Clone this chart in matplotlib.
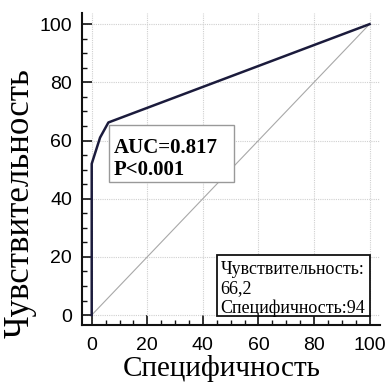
import matplotlib
matplotlib.use("Agg")
import matplotlib.pyplot as plt
from matplotlib.ticker import MultipleLocator
from matplotlib.patches import Rectangle

# Data
fpr = [0, 0, 3, 6, 100]          # 100 - specificity
tpr = [0, 52, 61, 66.2, 100]     # sensitivity
diag = [0, 100]
ticks = [0, 20, 40, 60, 80, 100]
auc_text = "AUC=0.817\nP<0.001"
cut_text = "Чувствительность:\n66,2\nСпецифичность:94"
xlabel = "Специфичность"
ylabel = "Чувствительность"

fig = plt.figure(figsize=(3.86, 3.85), dpi=100)
ax = fig.add_axes([0.2117, 0.156, 0.984 - 0.2117, 0.966 - 0.156])

ax.set_xlim(-3.6, 103.7)
ax.set_ylim(-3.4, 103.8)

ax.plot(diag, diag, color="#a8a8a8", lw=0.8, zorder=2)
ax.plot(fpr, tpr, color="#1b1b3c", lw=1.8, zorder=3, solid_joinstyle="round")

ax.set_xticks(ticks)
ax.set_yticks(ticks)
ax.xaxis.set_minor_locator(MultipleLocator(5))
ax.yaxis.set_minor_locator(MultipleLocator(5))
ax.grid(True, which="major", color="#d0d0d0", lw=0.8, linestyle=(0, (1, 1)), zorder=0)

for s in ["top", "right"]:
    ax.spines[s].set_visible(False)
for s in ["left", "bottom"]:
    ax.spines[s].set_linewidth(1.5)
    ax.spines[s].set_color("#111111")

ax.tick_params(which="major", direction="in", length=7, width=1.2, color="#111111",
               labelsize=14, pad=7)
ax.tick_params(which="minor", direction="in", length=3.5, width=1.0, color="#111111")
ax.tick_params(axis="x", which="major", pad=9)
for lab in ax.get_xticklabels() + ax.get_yticklabels():
    lab.set_fontfamily("Liberation Sans")

ax.set_xlabel(xlabel, fontfamily="Liberation Serif", fontsize=21)
ax.xaxis.set_label_coords(0.47, -0.095)
ax.set_ylabel(ylabel, fontfamily="Liberation Serif", fontsize=25)
ax.yaxis.set_label_coords(-0.15, 0.39)

# AUC box
ax.add_patch(Rectangle((6.2, 45.7), 45.0, 19.6, facecolor="white", edgecolor="#999999",
                       lw=1.0, zorder=4))
ax.text(8.0, 61.0, auc_text, fontfamily="Liberation Serif", fontweight="bold",
        fontsize=15, va="top", ha="left", linespacing=1.15, zorder=5)

# cut-off box
ax.add_patch(Rectangle((45.1, -0.3), 55.0, 20.9, facecolor="white", edgecolor="#111111",
                       lw=1.3, zorder=4))
ax.text(46.3, 18.5, cut_text, fontfamily="Liberation Serif",
        fontsize=13, va="top", ha="left", linespacing=1.15, zorder=5)

fig.savefig("out.png", dpi=100)
